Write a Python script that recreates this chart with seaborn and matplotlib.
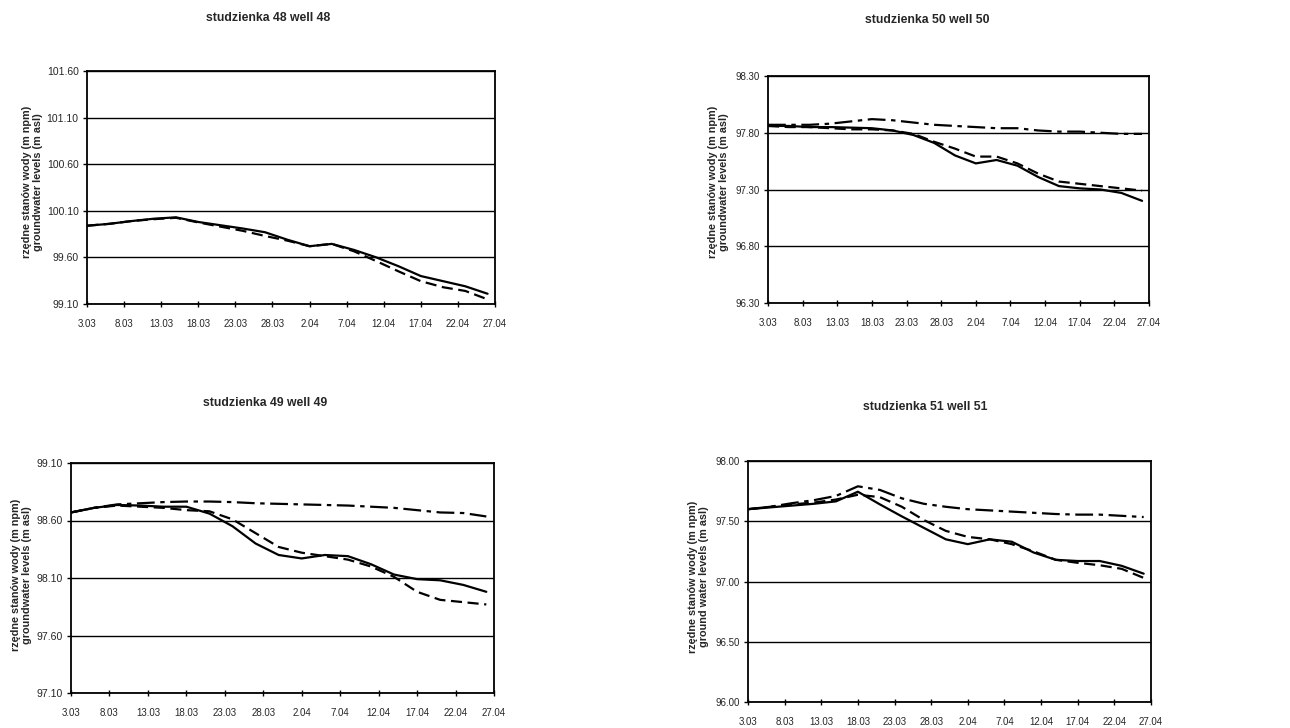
import matplotlib
matplotlib.use("Agg")
import matplotlib.pyplot as plt
import seaborn as sns
import pandas as pd

# ---------------- data ----------------
days = [0, 3, 6, 9, 12, 15, 18, 21, 24, 27, 30, 33, 36, 39, 42, 45, 48, 51, 54]
xtick_days = [0, 5, 10, 15, 20, 25, 30, 35, 40, 45, 50, 55]
xtick_labels = ["3.03", "8.03", "13.03", "18.03", "23.03", "28.03",
                "2.04", "7.04", "12.04", "17.04", "22.04", "27.04"]

w48_solid = [99.94, 99.96, 99.99, 100.015, 100.03, 99.98, 99.945, 99.91, 99.87, 99.79,
             99.72, 99.745, 99.68, 99.60, 99.505, 99.40, 99.345, 99.29, 99.21]
w48_dashed = [99.94, 99.96, 99.99, 100.01, 100.025, 99.975, 99.93, 99.885, 99.83, 99.78,
              99.72, 99.745, 99.665, 99.56, 99.45, 99.345, 99.28, 99.24, 99.15]

w50_solid = [97.86, 97.86, 97.85, 97.85, 97.845, 97.84, 97.82, 97.78, 97.71, 97.60,
             97.53, 97.56, 97.51, 97.41, 97.33, 97.31, 97.30, 97.27, 97.20]
w50_dashed = [97.86, 97.85, 97.85, 97.84, 97.83, 97.83, 97.82, 97.79, 97.72, 97.66,
              97.59, 97.59, 97.53, 97.44, 97.37, 97.35, 97.33, 97.31, 97.29]
w50_dashdot = [97.87, 97.87, 97.87, 97.88, 97.90, 97.92, 97.91, 97.89, 97.87, 97.86,
               97.85, 97.84, 97.84, 97.82, 97.81, 97.81, 97.80, 97.79, 97.79]

w49_solid = [98.67, 98.71, 98.735, 98.73, 98.72, 98.72, 98.66, 98.55, 98.40, 98.30,
             98.27, 98.30, 98.29, 98.22, 98.13, 98.09, 98.08, 98.04, 97.98]
w49_dashed = [98.67, 98.71, 98.73, 98.72, 98.71, 98.69, 98.68, 98.61, 98.49, 98.37,
              98.32, 98.29, 98.26, 98.20, 98.11, 97.98, 97.91, 97.89, 97.87]
w49_dashdot = [98.67, 98.71, 98.74, 98.75, 98.76, 98.765, 98.765, 98.76, 98.75, 98.745,
               98.74, 98.735, 98.73, 98.72, 98.71, 98.69, 98.67, 98.665, 98.635]

w51_solid = [97.60, 97.615, 97.63, 97.645, 97.665, 97.745, 97.64, 97.54, 97.445, 97.35,
             97.31, 97.35, 97.33, 97.24, 97.18, 97.17, 97.17, 97.13, 97.065]
w51_dashed = [97.60, 97.62, 97.64, 97.655, 97.68, 97.72, 97.70, 97.62, 97.51, 97.42,
              97.37, 97.35, 97.31, 97.25, 97.18, 97.155, 97.135, 97.105, 97.03]
w51_dashdot = [97.60, 97.62, 97.65, 97.675, 97.71, 97.79, 97.76, 97.69, 97.645, 97.62,
               97.60, 97.59, 97.58, 97.57, 97.56, 97.555, 97.555, 97.545, 97.535]

yticks48 = [99.10, 99.60, 100.10, 100.60, 101.10, 101.60]
yticks50 = [96.30, 96.80, 97.30, 97.80, 98.30]
yticks49 = [97.10, 97.60, 98.10, 98.60, 99.10]
yticks51 = [96.00, 96.50, 97.00, 97.50, 98.00]

ylabel_pl = "rzędne stanów wody (m npm)"
ylabel_en = "groundwater levels (m asl)"
ylabel_en51 = "ground water levels (m asl)"

# ---------------- style ----------------
sns.set_theme(style="white")
plt.rcParams["font.family"] = ["Liberation Sans", "DejaVu Sans"]

fig = plt.figure(figsize=(12.9, 7.28), dpi=100)
W, H = 1290.0, 728.0

SOLID = "-"
DASHED = (0, (5, 2.5))
DASHDOT = (0, (8, 2.5, 2, 2.5))

panels = [
    dict(rect=(87, 71, 495, 304), title="studzienka 48 well 48", tpos=(268, 18),
         series=[(w48_solid, SOLID), (w48_dashed, DASHED)],
         yticks=yticks48, ylabel=ylabel_en, lab=(-0.108, 0.524), ysize=7.5),
    dict(rect=(768, 76, 1149, 303), title="studzienka 50 well 50", tpos=(927, 20),
         series=[(w50_solid, SOLID), (w50_dashed, DASHED), (w50_dashdot, DASHDOT)],
         yticks=yticks50, ylabel=ylabel_en, lab=(-0.102, 0.533), ysize=7.0),
    dict(rect=(71, 463, 494, 693), title="studzienka 49 well 49", tpos=(265, 403),
         series=[(w49_solid, SOLID), (w49_dashed, DASHED), (w49_dashdot, DASHDOT)],
         yticks=yticks49, ylabel=ylabel_en, lab=(-0.092, 0.513), ysize=7.6),
    dict(rect=(748, 461, 1151, 702), title="studzienka 51 well 51", tpos=(925, 407),
         series=[(w51_solid, SOLID), (w51_dashed, DASHED), (w51_dashdot, DASHDOT)],
         yticks=yticks51, ylabel=ylabel_en51, lab=(-0.097, 0.52), ysize=7.0),
]

for p in panels:
    x0, y0, x1, y1 = p["rect"]
    ax = fig.add_axes([x0 / W, 1 - y1 / H, (x1 - x0) / W, (y1 - y0) / H])
    ax.set_facecolor("white")
    for vals, ls in p["series"]:
        df = pd.DataFrame({"day": days, "level": vals})
        sns.lineplot(data=df, x="day", y="level", ax=ax, color="black",
                     linewidth=1.6, linestyle=ls)
    yt = p["yticks"]
    ax.set_ylim(yt[0], yt[-1])
    ax.set_xlim(0, 55)
    ax.set_yticks(yt)
    ax.set_yticklabels([f"{v:.2f}" for v in yt])
    ax.set_xticks(xtick_days)
    ax.set_xticklabels(xtick_labels)
    ax.yaxis.grid(True, color="black", linewidth=1.0)
    ax.xaxis.grid(False)
    ax.set_axisbelow(True)
    for s in ax.spines.values():
        s.set_color("black")
        s.set_linewidth(1.3)
        s.set_visible(True)
    ax.tick_params(axis="x", direction="inout", length=4, width=1, color="black",
                   labelsize=7.0, pad=8.5, bottom=True)
    ax.tick_params(axis="y", direction="out", length=3, width=1, color="black",
                   labelsize=p["ysize"], pad=3, left=True)
    ax.set_xlabel("")
    ax.set_ylabel(ylabel_pl + "\n" + p["ylabel"], fontsize=7.8, fontweight="bold",
                  linespacing=1.15)
    ax.yaxis.set_label_coords(*p["lab"])
    tx, ty = p["tpos"]
    fig.text(tx / W, 1 - ty / H, p["title"], ha="center", va="center",
             fontsize=8.8, fontweight="bold")

fig.savefig("out.png", dpi=100, facecolor="white")
